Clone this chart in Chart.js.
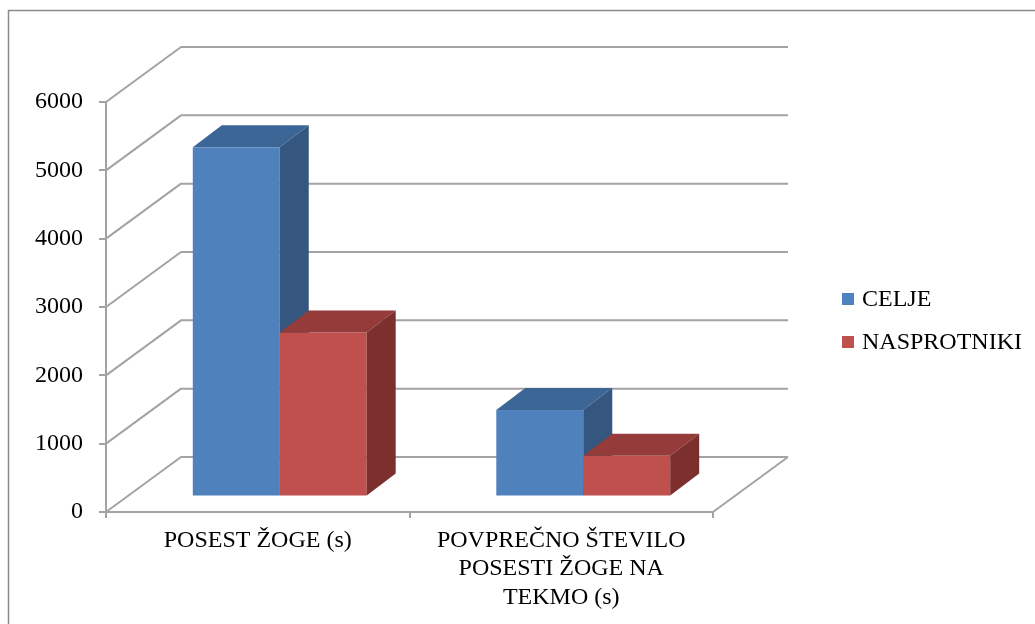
<!DOCTYPE html>
<html>
<head>
<meta charset="utf-8">
<script src="https://cdn.jsdelivr.net/npm/chart.js@4.4.0/dist/chart.umd.min.js"></script>
<style>
html,body{margin:0;padding:0;background:#fff;overflow:hidden}
#wrap{position:relative;width:1035px;height:624px}
canvas{display:block}
</style>
</head>
<body>
<div id="wrap"><canvas id="c" width="1035" height="624"></canvas></div>
<script>
// ---- data ----
const categories = ['POSEST ŽOGE (s)', ['POVPREČNO ŠTEVILO', 'POSESTI ŽOGE NA', 'TEKMO (s)']];
const seriesNames = ['CELJE', 'NASPROTNIKI'];
const celjeValues = [5110, 1265];
const nasprotnikiValues = [2400, 595];
const yMin = 0, yMax = 6000, yStep = 1000;

// ---- styles ----
const FONT_FAMILY = "'Liberation Serif', 'Times New Roman', serif";
const FONT = { family: FONT_FAMILY, size: 24, lineHeight: 1.2 };
const GRID = '#a3a3a3';
const frontColors = ['#4f81bd', '#c0504d'];
const topColors = ['#3c6696', '#953b39'];
const sideColors = ['#34567f', '#7c2f2d'];
const WALL_DX = 75, WALL_DY = -55;
const BAR_OX = 22, BAR_OY = -15.5;
const BAR_DX = 29, BAR_DY = -22;
const PLOT = { left: 106, right: 713, top: 102, bottom: 512 };
const LEGEND = { boxX: 842, textX: 862, firstY: 299, step: 43, box: 12 };

const threeD = {
  id: 'threeD',
  beforeDraw(chart) {
    const ctx = chart.ctx;
    ctx.save();
    ctx.fillStyle = '#fff';
    ctx.fillRect(0, 0, chart.width, chart.height);
    ctx.strokeStyle = '#8a8a8a';
    ctx.lineWidth = 1.5;
    ctx.strokeRect(8.5, 10.5, 1100, 700);
    ctx.restore();
  },
  beforeDatasetsDraw(chart) {
    const { ctx, chartArea: a } = chart;
    const ys = chart.scales.y;
    ctx.save();
    ctx.strokeStyle = GRID;
    ctx.lineWidth = 2;
    ctx.lineJoin = 'round';
    ys.ticks.forEach(t => {
      const py = ys.getPixelForValue(t.value);
      ctx.beginPath();
      ctx.moveTo(a.left, py);
      ctx.lineTo(a.left + WALL_DX, py + WALL_DY);
      ctx.lineTo(a.right + WALL_DX, py + WALL_DY);
      ctx.stroke();
    });
    const p0 = ys.getPixelForValue(0);
    ctx.beginPath();
    ctx.moveTo(a.right, p0);
    ctx.lineTo(a.right + WALL_DX, p0 + WALL_DY);
    ctx.stroke();

    const metas = chart.data.datasets.map((d, i) => chart.getDatasetMeta(i));
    for (let j = 0; j < categories.length; j++) {
      for (let i = 0; i < metas.length; i++) {
        const el = metas[i].data[j];
        if (!el) continue;
        const p = el.getProps(['x', 'y', 'base', 'width'], true);
        const l = p.x - p.width / 2 + BAR_OX;
        const r = p.x + p.width / 2 + BAR_OX;
        const t = p.y + BAR_OY;
        const b = p.base + BAR_OY;
        ctx.fillStyle = frontColors[i];
        ctx.fillRect(l, t, r - l, b - t);
        ctx.fillStyle = topColors[i];
        ctx.beginPath();
        ctx.moveTo(l, t);
        ctx.lineTo(l + BAR_DX, t + BAR_DY);
        ctx.lineTo(r + BAR_DX, t + BAR_DY);
        ctx.lineTo(r, t);
        ctx.closePath();
        ctx.fill();
        ctx.fillStyle = sideColors[i];
        ctx.beginPath();
        ctx.moveTo(r, t);
        ctx.lineTo(r + BAR_DX, t + BAR_DY);
        ctx.lineTo(r + BAR_DX, b + BAR_DY);
        ctx.lineTo(r, b);
        ctx.closePath();
        ctx.fill();
      }
    }
    ctx.restore();
    return false;
  },
  afterDraw(chart) {
    const ctx = chart.ctx;
    ctx.save();
    ctx.font = FONT.size + 'px ' + FONT_FAMILY;
    ctx.textBaseline = 'middle';
    ctx.textAlign = 'left';
    chart.data.datasets.forEach((ds, i) => {
      const cy = LEGEND.firstY + i * LEGEND.step;
      ctx.fillStyle = ds.backgroundColor;
      ctx.fillRect(LEGEND.boxX, cy - LEGEND.box / 2, LEGEND.box, LEGEND.box);
      ctx.fillStyle = '#000';
      ctx.fillText(ds.label, LEGEND.textX, cy + 1);
    });
    ctx.restore();
  }
};

const config = {
  type: 'bar',
  data: {
    labels: categories,
    datasets: [
      { label: seriesNames[0], data: celjeValues, backgroundColor: frontColors[0], borderWidth: 0, xAxisID: 'x', yAxisID: 'y', categoryPercentage: 0.573, barPercentage: 1 },
      { label: seriesNames[1], data: nasprotnikiValues, backgroundColor: frontColors[1], borderWidth: 0, xAxisID: 'x', yAxisID: 'y', categoryPercentage: 0.573, barPercentage: 1 }
    ]
  },
  options: {
    responsive: false,
    animation: false,
    devicePixelRatio: 1,
    layout: { padding: 0 },
    plugins: {
      tooltip: { enabled: false },
      title: { display: false },
      legend: { display: false }
    },
    scales: {
      x: {
        type: 'category',
        position: 'bottom',
        offset: true,
        grid: { offset: true, drawOnChartArea: false, drawTicks: true, tickLength: 6, color: GRID, lineWidth: 2 },
        border: { display: true, color: GRID, width: 2 },
        ticks: { font: FONT, color: '#000', padding: 8, maxRotation: 0, minRotation: 0, autoSkip: false },
        afterFit(s) { s.height = 624 - PLOT.bottom; }
      },
      xTop: {
        type: 'linear', axis: 'x', position: 'top', min: 0, max: 1,
        grid: { display: false }, border: { display: false }, ticks: { display: false },
        afterFit(s) { s.height = PLOT.top; }
      },
      y: {
        type: 'linear',
        position: 'left',
        min: yMin, max: yMax,
        grid: { drawOnChartArea: false, drawTicks: true, tickLength: 7, color: GRID, lineWidth: 2 },
        border: { display: true, color: GRID, width: 2 },
        ticks: { stepSize: yStep, font: FONT, color: '#000', padding: 16, callback: v => String(v) },
        afterFit(s) { s.width = PLOT.left; }
      },
      yRight: {
        type: 'linear', axis: 'y', position: 'right', min: 0, max: 1,
        grid: { display: false }, border: { display: false }, ticks: { display: false },
        afterFit(s) { s.width = 1035 - PLOT.right; }
      }
    }
  },
  plugins: [threeD]
};

const chart = new Chart(document.getElementById('c'), config);
</script>
</body>
</html>
